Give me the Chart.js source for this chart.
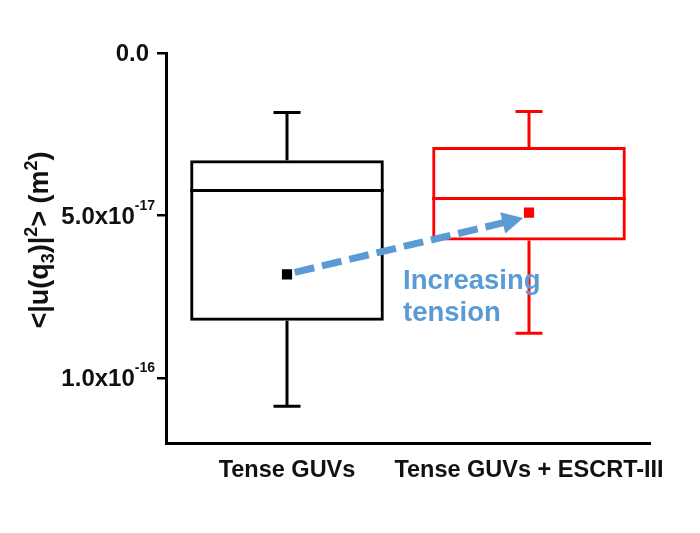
<!DOCTYPE html>
<html>
<head>
<meta charset="utf-8">
<script src="https://cdn.jsdelivr.net/npm/chart.js@4.4.1/dist/chart.umd.min.js"></script>
<style>
  html, body { margin: 0; padding: 0; background: #ffffff; }
  canvas { display: block; }
</style>
</head>
<body>
<canvas id="chart" width="700" height="533"></canvas>
<script>
// Box-plot summary of fluctuation amplitude per condition
const categories = ['Tense GUVs', 'Tense GUVs + ESCRT-III'];
const whiskerLow  = [1.83e-17, 1.80e-17];
const q1          = [3.30e-17, 2.89e-17];
const median      = [4.23e-17, 4.48e-17];
const q3          = [8.24e-17, 5.77e-17];
const whiskerHigh = [1.087e-16, 8.62e-17];
const mean        = [6.81e-17, 4.91e-17];

// Y axis ticks, written as mantissa + power of ten
const yTicks        = [0, 5e-17, 1e-16];
const yTickMantissa = ['0.0', '5.0x10', '1.0x10'];
const yTickExponent = ['', '-17', '-16'];

const boxColors = ['#000000', '#ff0000'];
const arrowColor = '#5b9bd5';
const FONT = '"Liberation Sans", Arial, Helvetica, sans-serif';

const background = {
  id: 'background',
  beforeDraw(chart) {
    const ctx = chart.ctx;
    ctx.save();
    ctx.fillStyle = '#ffffff';
    ctx.fillRect(0, 0, chart.width, chart.height);
    ctx.restore();
  }
};

// Medians and whiskers drawn on top of the box (bar) elements
const boxParts = {
  id: 'boxParts',
  afterDatasetsDraw(chart) {
    const ctx = chart.ctx;
    const y = chart.scales.y;
    const bars = chart.getDatasetMeta(0).data;
    ctx.save();
    ctx.lineWidth = 3;
    ctx.lineCap = 'butt';
    bars.forEach((bar, i) => {
      const cx = bar.x;
      const half = bar.width / 2;
      const capHalf = 13.5;
      ctx.strokeStyle = boxColors[i];
      // median
      const ym = y.getPixelForValue(median[i]);
      ctx.beginPath();
      ctx.moveTo(cx - half, ym);
      ctx.lineTo(cx + half, ym);
      ctx.stroke();
      // upper whisker (smaller values, reversed axis)
      const yLo = y.getPixelForValue(whiskerLow[i]);
      const yQ1 = y.getPixelForValue(q1[i]);
      ctx.beginPath();
      ctx.moveTo(cx, yQ1);
      ctx.lineTo(cx, yLo);
      ctx.moveTo(cx - capHalf, yLo);
      ctx.lineTo(cx + capHalf, yLo);
      ctx.stroke();
      // lower whisker
      const yHi = y.getPixelForValue(whiskerHigh[i]);
      const yQ3 = y.getPixelForValue(q3[i]);
      ctx.beginPath();
      ctx.moveTo(cx, yQ3);
      ctx.lineTo(cx, yHi);
      ctx.moveTo(cx - capHalf, yHi);
      ctx.lineTo(cx + capHalf, yHi);
      ctx.stroke();
    });
    ctx.restore();
  }
};

// Dashed arrow between the two means, plus its caption
const tensionArrow = {
  id: 'tensionArrow',
  afterDraw(chart) {
    const ctx = chart.ctx;
    const x = chart.scales.x;
    const y = chart.scales.y;
    const p1 = { x: x.getPixelForValue(0), y: y.getPixelForValue(mean[0]) };
    const p2 = { x: x.getPixelForValue(1), y: y.getPixelForValue(mean[1]) };
    const dx = p2.x - p1.x, dy = p2.y - p1.y;
    const len = Math.hypot(dx, dy);
    const ux = dx / len, uy = dy / len;
    const start = { x: p1.x + ux * 8, y: p1.y + uy * 8 };
    const tip = { x: p2.x - ux * 6, y: p2.y - uy * 6 + 4 };
    const tx = tip.x - start.x, ty = tip.y - start.y;
    const tl = Math.hypot(tx, ty);
    const vx = tx / tl, vy = ty / tl;
    const headLen = 21, headHalf = 11;
    const base = { x: tip.x - vx * headLen, y: tip.y - vy * headLen };

    ctx.save();
    ctx.strokeStyle = arrowColor;
    ctx.fillStyle = arrowColor;
    ctx.lineWidth = 7;
    ctx.lineCap = 'butt';
    ctx.setLineDash([20, 8]);
    ctx.beginPath();
    ctx.moveTo(start.x, start.y);
    ctx.lineTo(base.x + vx * 2, base.y + vy * 2);
    ctx.stroke();
    ctx.setLineDash([]);
    ctx.beginPath();
    ctx.moveTo(tip.x, tip.y);
    ctx.lineTo(base.x - vy * headHalf, base.y + vx * headHalf);
    ctx.lineTo(base.x + vy * headHalf, base.y - vx * headHalf);
    ctx.closePath();
    ctx.fill();

    ctx.font = 'bold 27.5px ' + FONT;
    ctx.textAlign = 'left';
    ctx.textBaseline = 'alphabetic';
    ctx.fillText('Increasing', 403, 289);
    ctx.fillText('tension', 403, 321);
    ctx.restore();
  }
};

// Y tick labels with superscript exponents, and the rotated axis title
const yAxisText = {
  id: 'yAxisText',
  afterDraw(chart) {
    const ctx = chart.ctx;
    const y = chart.scales.y;
    ctx.save();
    ctx.fillStyle = '#111111';
    ctx.textBaseline = 'alphabetic';
    yTicks.forEach((v, i) => {
      const py = y.getPixelForValue(v);
      const mainFont = 'bold 24px ' + FONT;
      const supFont = 'bold 14px ' + FONT;
      ctx.font = supFont;
      const supW = yTickExponent[i] ? ctx.measureText(yTickExponent[i]).width : 0;
      const right = yTickExponent[i] ? 155 : 149;
      ctx.font = mainFont;
      ctx.textAlign = 'right';
      ctx.fillText(yTickMantissa[i], right - supW, py + 8);
      if (yTickExponent[i]) {
        ctx.font = supFont;
        ctx.textAlign = 'left';
        ctx.fillText(yTickExponent[i], right - supW, py - 6);
      }
    });

    // <|u(q3)|2> (m2)
    const parts = [
      ['<|u(q', 'main'], ['3', 'sub'], [')|', 'main'], ['2', 'sup'],
      ['> (m', 'main'], ['2', 'sup'], [')', 'main']
    ];
    const fonts = { main: 'bold 27px ' + FONT, sub: 'bold 18px ' + FONT, sup: 'bold 18px ' + FONT };
    const shift = { main: 0, sub: 6, sup: -11 };
    let total = 0;
    parts.forEach(([t, k]) => { ctx.font = fonts[k]; total += ctx.measureText(t).width; });
    ctx.translate(48, 240);
    ctx.rotate(-Math.PI / 2);
    ctx.textAlign = 'left';
    let cx = -total / 2;
    parts.forEach(([t, k]) => {
      ctx.font = fonts[k];
      ctx.fillText(t, cx, shift[k]);
      cx += ctx.measureText(t).width;
    });
    ctx.restore();
  }
};

new Chart(document.getElementById('chart'), {
  type: 'bar',
  data: {
    labels: categories,
    datasets: [
      {
        type: 'bar',
        data: q1.map((v, i) => [v, q3[i]]),
        backgroundColor: 'rgba(255,255,255,0)',
        borderColor: boxColors,
        borderWidth: 3,
        borderSkipped: false,
        barPercentage: 0.8,
        categoryPercentage: 1.0
      },
      {
        type: 'line',
        data: mean,
        showLine: false,
        pointStyle: 'rect',
        pointRadius: 7.2,
        pointBorderWidth: 0,
        pointBackgroundColor: boxColors,
        pointBorderColor: boxColors
      }
    ]
  },
  options: {
    responsive: false,
    animation: false,
    devicePixelRatio: 1,
    layout: { padding: { top: 53, right: 50, left: 0, bottom: 0 } },
    plugins: {
      legend: { display: false },
      tooltip: { enabled: false }
    },
    scales: {
      x: {
        offset: true,
        grid: { display: false },
        border: { display: true, color: '#000000', width: 3 },
        ticks: {
          color: '#111111',
          padding: 5,
          autoSkip: false,
          maxRotation: 0,
          minRotation: 0,
          font: { family: FONT, size: 23.5, weight: 'bold' }
        },
        afterFit(scale) { scale.height = 90; }
      },
      y: {
        min: 0,
        max: 1.2e-16,
        reverse: true,
        afterBuildTicks(scale) { scale.ticks = yTicks.map(v => ({ value: v })); },
        ticks: { display: false },
        grid: {
          drawOnChartArea: false,
          drawTicks: true,
          tickLength: 9,
          color: '#000000',
          lineWidth: 2.5
        },
        border: { display: true, color: '#000000', width: 3 },
        afterFit(scale) { scale.width = 166; }
      }
    }
  },
  plugins: [background, boxParts, tensionArrow, yAxisText]
});
</script>
</body>
</html>
